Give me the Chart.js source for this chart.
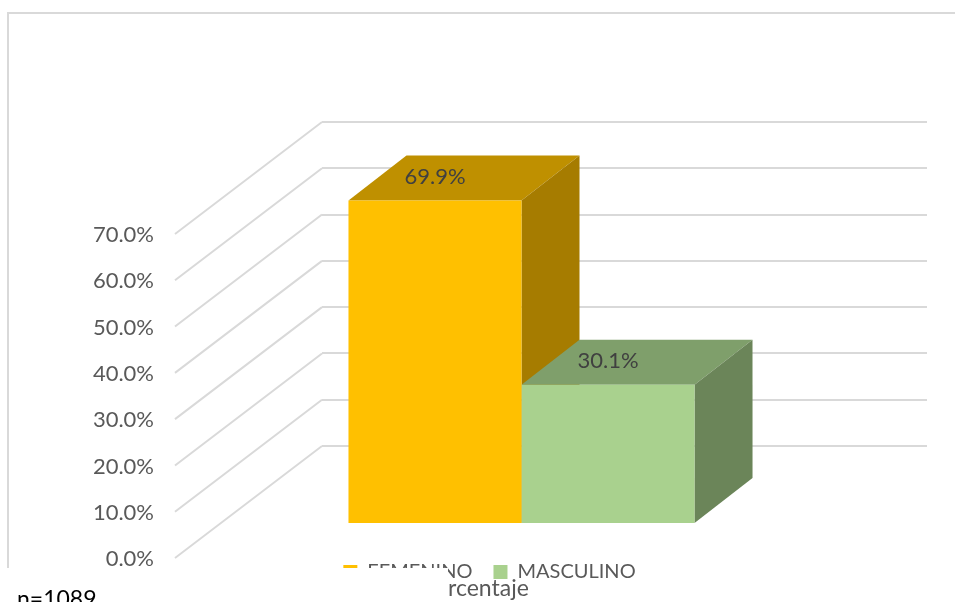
<!DOCTYPE html>
<html>
<head>
<meta charset="utf-8">
<style>
    html, body { margin: 0; padding: 0; background: #fff; overflow: hidden; }
    #wrap { position: relative; width: 955px; height: 602px; }
</style>
<script src="https://cdn.jsdelivr.net/npm/chart.js@4"></script>
</head>
<body>
<div id="wrap"><canvas id="myChart"></canvas></div>
<script>
var categories = ['Porcentaje'];
var seriesNames = ['FEMENINO', 'MASCULINO'];
var femenino = [69.9];
var masculino = [30.1];
var tickValues = [0, 10, 20, 30, 40, 50, 60, 70];

var FONT = 'Lato, sans-serif';

// depth of the fake 3D box, px
var wallOffset = { x: -147, y: 112 };   // back wall -> front of floor
var barOffset = { x: -103, y: 78 };     // back wall -> front face of the bars
var barDepth = { x: 58, y: -45 };

var faceColors = [
    { top: '#bf9000', side: '#a67c00' },
    { top: '#7f9f6b', side: '#6b8559' }
];

function poly(ctx, pts, color) {
    ctx.fillStyle = color;
    ctx.beginPath();
    ctx.moveTo(pts[0][0], pts[0][1]);
    for (var i = 1; i < pts.length; i++) ctx.lineTo(pts[i][0], pts[i][1]);
    ctx.closePath();
    ctx.fill();
}

var box3d = {
    id: 'box3d',
    beforeDraw: function (chart) {
        var ctx = chart.ctx;
        ctx.save();
        ctx.strokeStyle = '#d9d9d9';
        ctx.lineWidth = 2;
        ctx.beginPath();
        ctx.moveTo(8, 568);
        ctx.lineTo(8, 13);
        ctx.lineTo(955, 13);
        ctx.stroke();
        ctx.restore();
    },
    beforeDatasetsDraw: function (chart) {
        // side wall lines and the value labels of the front plane
        var ctx = chart.ctx, y = chart.scales.y, left = chart.chartArea.left;
        ctx.save();
        ctx.strokeStyle = '#d9d9d9';
        ctx.lineWidth = 2;
        ctx.font = '22px ' + FONT;
        ctx.fillStyle = '#595959';
        ctx.textAlign = 'right';
        ctx.textBaseline = 'middle';
        y.ticks.forEach(function (tick, i) {
            var py = y.getPixelForTick(i);
            ctx.beginPath();
            ctx.moveTo(left, py);
            ctx.lineTo(left + wallOffset.x, py + wallOffset.y);
            ctx.stroke();
            ctx.fillText(tick.label, left + wallOffset.x - 21, py + wallOffset.y + 1);
        });
        ctx.restore();

        // top and side faces first, the front faces are the bars themselves
        chart.data.datasets.forEach(function (ds, i) {
            var bar = chart.getDatasetMeta(i).data[0], c = faceColors[i];
            var l = bar.x - bar.width / 2 + barOffset.x, r = bar.x + bar.width / 2 + barOffset.x;
            var t = bar.y + barOffset.y, b = bar.base + barOffset.y;
            poly(chart.ctx, [[l, t], [r, t], [r + barDepth.x, t + barDepth.y], [l + barDepth.x, t + barDepth.y]], c.top);
            poly(chart.ctx, [[r, t], [r + barDepth.x, t + barDepth.y], [r + barDepth.x, b + barDepth.y], [r, b]], c.side);
        });
    },
    beforeDatasetDraw: function (chart) {
        chart.ctx.save();
        chart.ctx.translate(barOffset.x, barOffset.y);
    },
    afterDatasetDraw: function (chart) {
        chart.ctx.restore();
    },
    afterDatasetsDraw: function (chart) {
        var ctx = chart.ctx;
        ctx.save();
        ctx.font = '22px ' + FONT;
        ctx.fillStyle = '#404040';
        ctx.textAlign = 'center';
        ctx.textBaseline = 'middle';
        chart.data.datasets.forEach(function (ds, i) {
            var bar = chart.getDatasetMeta(i).data[0];
            ctx.fillText(ds.data[0].toFixed(1) + '%', bar.x + barOffset.x, bar.y + barOffset.y - 24);
        });
        ctx.restore();
    },
    afterDraw: function (chart) {
        // the source picture has a white box pasted over the bottom left
        var ctx = chart.ctx;
        ctx.save();
        ctx.fillStyle = '#fff';
        ctx.fillRect(0, 568, 448, 34);
        ctx.font = '23px ' + FONT;
        ctx.fillStyle = '#595959';
        ctx.textAlign = 'left';
        ctx.textBaseline = 'middle';
        ctx.fillText('rcentaje', 448, 589);
        ctx.fillStyle = '#000';
        ctx.font = '23px ' + FONT;
        ctx.fillText('n=1089', 17, 600);
        ctx.restore();
    }
};

var ctx = document.getElementById('myChart').getContext('2d');
var myChart = new Chart(ctx, {
    type: 'bar',
    data: {
        labels: categories,
        datasets: [{
            label: seriesNames[0],
            data: femenino,
            backgroundColor: '#ffc000',
            clip: false
        }, {
            label: seriesNames[1],
            data: masculino,
            backgroundColor: '#a9d18e',
            clip: false
        }]
    },
    options: {
        responsive: true,
        maintainAspectRatio: false,
        animation: false,
        categoryPercentage: 0.572,
        barPercentage: 1,
        layout: { padding: { left: 52, right: 28, top: 122, bottom: 10 } },
        scales: {
            x: {
                grid: { display: false },
                border: { display: false },
                ticks: { display: false },
                afterFit: function (scale) { scale.height = 95; }
            },
            y: {
                min: 0,
                max: 70,
                afterBuildTicks: function (scale) {
                    scale.ticks = tickValues.map(function (v) { return { value: v }; });
                },
                ticks: {
                    display: false,
                    callback: function (v) { return v.toFixed(1) + '%'; }
                },
                grid: { color: '#d9d9d9', lineWidth: 2, drawTicks: false },
                border: { display: false },
                afterFit: function (scale) { scale.width = 270; }
            }
        },
        plugins: {
            legend: {
                position: 'bottom',
                labels: {
                    boxWidth: 14,
                    boxHeight: 14,
                    padding: 21,
                    color: '#595959',
                    font: { size: 20, family: FONT }
                }
            },
            tooltip: { enabled: false }
        }
    },
    plugins: [box3d]
});
</script>
</body>
</html>
